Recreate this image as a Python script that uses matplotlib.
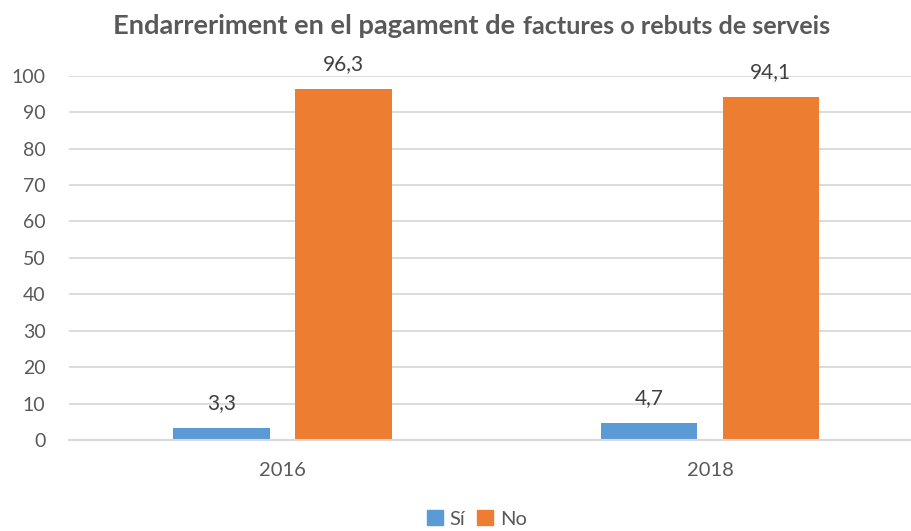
import matplotlib
matplotlib.use("Agg")
import matplotlib.pyplot as plt
import numpy as np
from matplotlib.patches import Patch

# ---- data ----
years = ["2016", "2018"]
si_values = [3.3, 4.7]
no_values = [96.3, 94.1]
series_names = ["Sí", "No"]
y_ticks = [0, 10, 20, 30, 40, 50, 60, 70, 80, 90, 100]
title_part1 = "Endarreriment en el pagament de"
title_part2 = "factures o rebuts de serveis"

# ---- style ----
W, H = 912, 531
FONT = "Lato"
plt.rcParams["font.family"] = [FONT, "DejaVu Sans"]
C_SI = "#5B9BD5"
C_NO = "#ED7D31"
C_GRID = "#D9D9D9"
C_TICK = "#595959"
C_LABEL = "#404040"

fig = plt.figure(figsize=(W / 100, H / 100), dpi=100)
ax_left, ax_bottom = 69 / W, 1 - 440 / H
ax_height = (440 - 75.7) / H
ax = fig.add_axes([ax_left, ax_bottom, 1 - ax_left, ax_height])

x = np.arange(len(years))
bw = 0.225
off = 0.1425
b1 = ax.bar(x - off, si_values, bw, color=C_SI, zorder=3)
b2 = ax.bar(x + off, no_values, bw, color=C_NO, zorder=3)

for bars, vals in ((b1, si_values), (b2, no_values)):
    for rect, v in zip(bars, vals):
        ax.annotate(f"{v:.1f}".replace(".", ","),
                    xy=(rect.get_x() + rect.get_width() / 2, v),
                    xytext=(0, 13.5), textcoords="offset points",
                    ha="center", va="baseline", fontsize=15, color=C_LABEL)

ax.set_xlim(-0.4994, 1.4725)
ax.set_ylim(0, 100)
ax.set_yticks(y_ticks)
ax.set_yticklabels([str(t) for t in y_ticks])
ax.set_xticks(x)
ax.set_xticklabels(years)
ax.tick_params(axis="y", length=0, pad=17, labelsize=14, labelcolor=C_TICK)
ax.tick_params(axis="x", length=0, pad=16, labelsize=14.5, labelcolor=C_TICK)
ax.grid(axis="y", color=C_GRID, linewidth=1.3, zorder=0)
for s in ("top", "right", "left"):
    ax.spines[s].set_visible(False)
ax.spines["bottom"].set_color(C_GRID)
ax.spines["bottom"].set_linewidth(1.5)
ax.spines["bottom"].set_zorder(4)

# ---- title in two parts, fitted to reference widths ----
renderer = fig.canvas.get_renderer()

def fitted_text(s, x0, x1, ybase, size0):
    t = fig.text(x0 / W, 1 - ybase / H, s, ha="left", va="baseline",
                 fontsize=size0, fontweight="bold", color=C_TICK)
    w = t.get_window_extent(renderer).width
    t.set_fontsize(size0 * (x1 - x0) / w)
    return t

fitted_text(title_part1, 113, 517, 34, 18)
fitted_text(title_part2, 523, 832, 34, 15)

# ---- legend ----
handles = [Patch(color=C_SI, label=series_names[0]),
           Patch(color=C_NO, label=series_names[1])]
fig.legend(handles=handles, loc="center", bbox_to_anchor=(477 / W, 1 - 519 / H),
           ncol=2, frameon=False, fontsize=14.5, labelcolor=C_TICK,
           handlelength=0.75, handleheight=0.75, handletextpad=0.35,
           columnspacing=0.6, borderaxespad=0, borderpad=0)

fig.savefig("out.png", dpi=100)
